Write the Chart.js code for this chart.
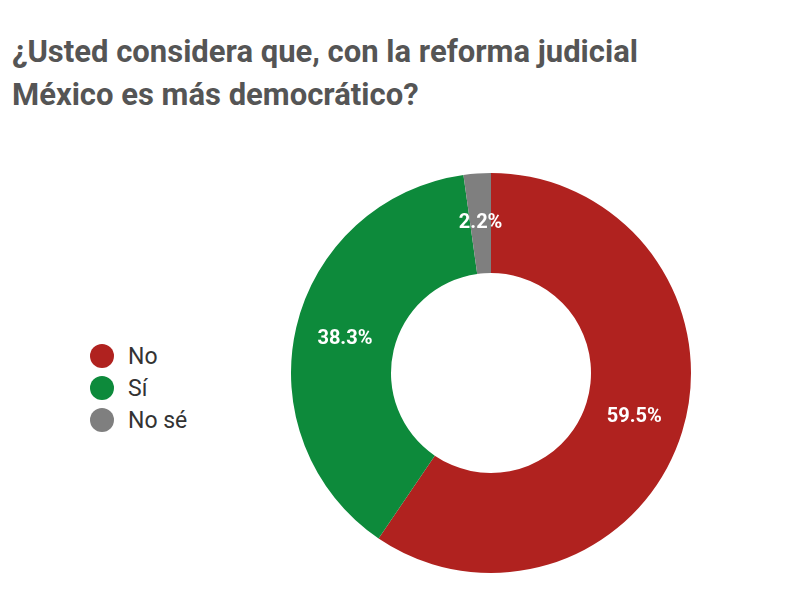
<!DOCTYPE html>
<html>
<head>
<meta charset="utf-8">
<script src="https://cdn.jsdelivr.net/npm/chart.js@4"></script>
<style>
  body { margin: 0; width: 800px; height: 604px; background: #fff; font-family: Roboto, sans-serif; position: relative; overflow: hidden; }
  #title { position: absolute; left: 12px; top: 30px; font-size: 31px; font-weight: bold; color: #555; line-height: 43px; }
  #legend { position: absolute; left: 90px; top: 340px; font-size: 23px; color: #333; }
  #legend div { display: flex; align-items: center; height: 32px; }
  #legend span.dot { width: 24px; height: 24px; border-radius: 50%; margin-right: 14px; }
  #wrap { position: absolute; left: 289px; top: 171px; width: 404px; height: 404px; }
</style>
</head>
<body>
<div id="title">¿Usted considera que, con la reforma judicial<br>México es más democrático?</div>
<div id="legend"></div>
<div id="wrap"><canvas id="pie"></canvas></div>
<script>
const labels = ['No', 'Sí', 'No sé'];
const values = [59.5, 38.3, 2.2];
const colors = ['#b0221f', '#0d8a3b', '#7f7f7f'];

const legend = document.getElementById('legend');
labels.forEach((l, i) => {
    legend.innerHTML += `<div><span class="dot" style="background:${colors[i]}"></span>${l}</div>`;
});

// draw the percentage on each slice
const sliceLabels = {
    id: 'sliceLabels',
    afterDatasetsDraw(chart) {
        const ctx = chart.ctx;
        const meta = chart.getDatasetMeta(0);
        ctx.save();
        ctx.fillStyle = '#fff';
        ctx.font = 'bold 20px Roboto';
        ctx.textAlign = 'center';
        ctx.textBaseline = 'middle';
        meta.data.forEach((arc, i) => {
            const p = arc.tooltipPosition();
            ctx.fillText(values[i].toFixed(1) + '%', p.x, p.y);
        });
        ctx.restore();
    }
};

new Chart(document.getElementById('pie'), {
    type: 'doughnut',
    data: {
        labels: labels,
        datasets: [{ data: values, backgroundColor: colors, borderWidth: 0 }]
    },
    options: {
        responsive: true,
        maintainAspectRatio: false,
        animation: false,
        cutout: '50%',
        layout: { padding: 2 },
        plugins: { legend: { display: false }, tooltip: { enabled: false } }
    },
    plugins: [sliceLabels]
});
</script>
</body>
</html>
